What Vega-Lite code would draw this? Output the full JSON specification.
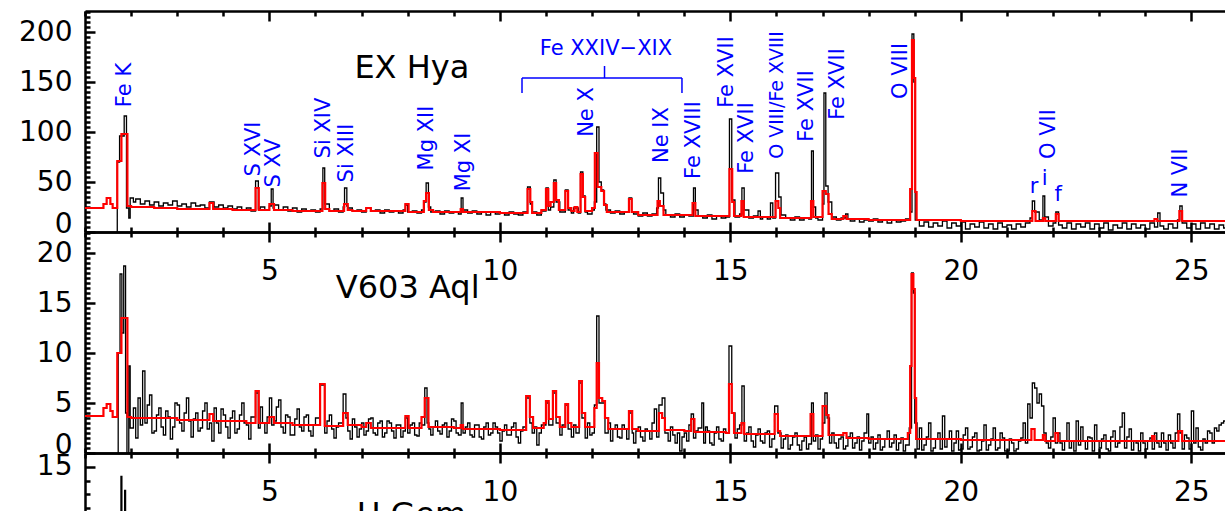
{
"$schema": "https://vega.github.io/schema/vega-lite/v6.json",
"padding": {"left": 18, "top": 9, "right": 0, "bottom": 0},
"background": "white",
"config": {
  "font": "DejaVu Sans",
  "view": {"stroke": null},
  "axis": {"domainColor": "black", "domainWidth": 2.5, "tickColor": "black", "tickWidth": 2.5, "labelColor": "black", "labelFont": "DejaVu Sans", "labelFontSize": 28, "grid": false, "labelFlush": false, "labelOverlap": false, "zindex": 1}
},
"datasets": {
  "exd": [{"x":1.66,"y":-10},{"x":1.70,"y":70},{"x":1.75,"y":96},{"x":1.85,"y":116},{"x":1.90,"y":24},{"x":1.95,"y":14},{"x":1.98,"y":34},{"x":2.05,"y":30},{"x":2.1,"y":33},{"x":2.2,"y":28},{"x":2.3,"y":31},{"x":2.4,"y":27},{"x":2.5,"y":30},{"x":2.6,"y":26},{"x":2.7,"y":29},{"x":2.8,"y":27},{"x":2.9,"y":31},{"x":3.0,"y":26},{"x":3.1,"y":28},{"x":3.2,"y":25},{"x":3.3,"y":29},{"x":3.4,"y":26},{"x":3.5,"y":27},{"x":3.6,"y":24},{"x":3.7,"y":30},{"x":3.8,"y":25},{"x":3.9,"y":27},{"x":4.0,"y":24},{"x":4.1,"y":26},{"x":4.2,"y":23},{"x":4.3,"y":25},{"x":4.4,"y":22},{"x":4.5,"y":24},{"x":4.6,"y":21},{"x":4.7,"y":51},{"x":4.76,"y":23},{"x":4.8,"y":25},{"x":4.9,"y":22},{"x":5.0,"y":26},{"x":5.04,"y":43},{"x":5.08,"y":24},{"x":5.1,"y":27},{"x":5.2,"y":22},{"x":5.3,"y":25},{"x":5.4,"y":21},{"x":5.5,"y":24},{"x":5.6,"y":20},{"x":5.7,"y":23},{"x":5.8,"y":21},{"x":5.9,"y":22},{"x":6.0,"y":20},{"x":6.1,"y":23},{"x":6.16,"y":64},{"x":6.2,"y":28},{"x":6.3,"y":21},{"x":6.4,"y":23},{"x":6.5,"y":20},{"x":6.6,"y":25},{"x":6.63,"y":44},{"x":6.68,"y":26},{"x":6.7,"y":24},{"x":6.8,"y":21},{"x":6.9,"y":22},{"x":7.0,"y":20},{"x":7.1,"y":24},{"x":7.2,"y":21},{"x":7.3,"y":22},{"x":7.4,"y":19},{"x":7.5,"y":22},{"x":7.6,"y":20},{"x":7.7,"y":21},{"x":7.8,"y":19},{"x":7.9,"y":22},{"x":7.95,"y":27},{"x":8.0,"y":20},{"x":8.1,"y":21},{"x":8.2,"y":19},{"x":8.3,"y":22},{"x":8.36,"y":30},{"x":8.4,"y":49},{"x":8.45,"y":25},{"x":8.5,"y":20},{"x":8.6,"y":21},{"x":8.7,"y":18},{"x":8.8,"y":21},{"x":8.9,"y":19},{"x":9.0,"y":20},{"x":9.1,"y":18},{"x":9.16,"y":34},{"x":9.2,"y":22},{"x":9.3,"y":19},{"x":9.4,"y":21},{"x":9.5,"y":18},{"x":9.6,"y":20},{"x":9.7,"y":17},{"x":9.8,"y":20},{"x":9.9,"y":18},{"x":10.0,"y":19},{"x":10.1,"y":17},{"x":10.2,"y":20},{"x":10.3,"y":18},{"x":10.4,"y":17},{"x":10.5,"y":20},{"x":10.6,"y":45},{"x":10.66,"y":28},{"x":10.7,"y":20},{"x":10.8,"y":17},{"x":10.9,"y":21},{"x":11.0,"y":44},{"x":11.05,"y":22},{"x":11.1,"y":25},{"x":11.17,"y":52},{"x":11.22,"y":30},{"x":11.3,"y":20},{"x":11.42,"y":42},{"x":11.48,"y":22},{"x":11.55,"y":19},{"x":11.6,"y":24},{"x":11.7,"y":19},{"x":11.75,"y":60},{"x":11.8,"y":36},{"x":11.85,"y":20},{"x":11.9,"y":18},{"x":12.0,"y":22},{"x":12.05,"y":30},{"x":12.1,"y":105},{"x":12.15,"y":50},{"x":12.2,"y":42},{"x":12.25,"y":28},{"x":12.3,"y":22},{"x":12.4,"y":19},{"x":12.5,"y":21},{"x":12.6,"y":18},{"x":12.7,"y":20},{"x":12.8,"y":34},{"x":12.86,"y":20},{"x":12.9,"y":18},{"x":13.0,"y":16},{"x":13.1,"y":19},{"x":13.2,"y":16},{"x":13.3,"y":18},{"x":13.4,"y":24},{"x":13.44,"y":54},{"x":13.49,"y":39},{"x":13.55,"y":22},{"x":13.6,"y":17},{"x":13.7,"y":15},{"x":13.8,"y":18},{"x":13.9,"y":15},{"x":14.0,"y":17},{"x":14.1,"y":16},{"x":14.2,"y":44},{"x":14.24,"y":22},{"x":14.3,"y":16},{"x":14.4,"y":14},{"x":14.5,"y":17},{"x":14.6,"y":13},{"x":14.7,"y":16},{"x":14.8,"y":14},{"x":14.9,"y":15},{"x":14.98,"y":113},{"x":15.03,"y":32},{"x":15.1,"y":15},{"x":15.2,"y":18},{"x":15.25,"y":44},{"x":15.3,"y":22},{"x":15.4,"y":14},{"x":15.5,"y":16},{"x":15.6,"y":21},{"x":15.65,"y":13},{"x":15.7,"y":15},{"x":15.8,"y":13},{"x":15.87,"y":29},{"x":15.92,"y":14},{"x":15.98,"y":59},{"x":16.05,"y":35},{"x":16.1,"y":17},{"x":16.2,"y":14},{"x":16.3,"y":12},{"x":16.4,"y":15},{"x":16.5,"y":12},{"x":16.6,"y":14},{"x":16.7,"y":13},{"x":16.76,"y":81},{"x":16.8,"y":25},{"x":16.85,"y":14},{"x":16.9,"y":12},{"x":17.0,"y":28},{"x":17.03,"y":139},{"x":17.07,"y":46},{"x":17.12,"y":30},{"x":17.2,"y":15},{"x":17.3,"y":12},{"x":17.4,"y":14},{"x":17.5,"y":18},{"x":17.55,"y":13},{"x":17.6,"y":11},{"x":17.7,"y":13},{"x":17.8,"y":10},{"x":17.9,"y":12},{"x":18.0,"y":11},{"x":18.1,"y":13},{"x":18.2,"y":10},{"x":18.3,"y":12},{"x":18.4,"y":9},{"x":18.5,"y":12},{"x":18.6,"y":10},{"x":18.7,"y":11},{"x":18.8,"y":13},{"x":18.9,"y":20},{"x":18.94,"y":198},{"x":18.98,"y":150},{"x":19.01,"y":12},{"x":19.1,"y":6},{"x":19.2,"y":10},{"x":19.3,"y":5},{"x":19.4,"y":9},{"x":19.5,"y":6},{"x":19.6,"y":11},{"x":19.7,"y":4},{"x":19.8,"y":9},{"x":19.9,"y":6},{"x":20.0,"y":10},{"x":20.1,"y":3},{"x":20.2,"y":8},{"x":20.3,"y":5},{"x":20.4,"y":10},{"x":20.5,"y":4},{"x":20.6,"y":8},{"x":20.7,"y":3},{"x":20.8,"y":9},{"x":20.9,"y":5},{"x":21.0,"y":7},{"x":21.1,"y":3},{"x":21.2,"y":8},{"x":21.3,"y":5},{"x":21.4,"y":9},{"x":21.5,"y":14},{"x":21.55,"y":31},{"x":21.6,"y":20},{"x":21.7,"y":12},{"x":21.78,"y":36},{"x":21.82,"y":15},{"x":21.9,"y":6},{"x":22.0,"y":9},{"x":22.06,"y":20},{"x":22.12,"y":7},{"x":22.2,"y":4},{"x":22.3,"y":9},{"x":22.4,"y":3},{"x":22.5,"y":8},{"x":22.6,"y":5},{"x":22.7,"y":9},{"x":22.8,"y":3},{"x":22.9,"y":8},{"x":23.0,"y":4},{"x":23.1,"y":9},{"x":23.2,"y":2},{"x":23.3,"y":7},{"x":23.4,"y":4},{"x":23.5,"y":9},{"x":23.6,"y":3},{"x":23.7,"y":8},{"x":23.8,"y":4},{"x":23.9,"y":7},{"x":24.0,"y":3},{"x":24.1,"y":9},{"x":24.2,"y":5},{"x":24.27,"y":19},{"x":24.32,"y":6},{"x":24.4,"y":3},{"x":24.5,"y":8},{"x":24.6,"y":4},{"x":24.7,"y":12},{"x":24.75,"y":26},{"x":24.8,"y":9},{"x":24.9,"y":4},{"x":25.0,"y":8},{"x":25.1,"y":3},{"x":25.2,"y":9},{"x":25.3,"y":4},{"x":25.4,"y":8},{"x":25.5,"y":3},{"x":25.6,"y":7},{"x":25.7,"y":4},{"x":25.8,"y":8}],
  "exm": [{"x":1.0,"y":24},{"x":1.4,"y":28},{"x":1.47,"y":34},{"x":1.55,"y":28},{"x":1.6,"y":24},{"x":1.7,"y":71},{"x":1.79,"y":98},{"x":1.92,"y":26},{"x":2.0,"y":25},{"x":2.5,"y":24},{"x":3.0,"y":23},{"x":3.7,"y":29},{"x":3.78,"y":23},{"x":4.2,"y":22},{"x":4.7,"y":44},{"x":4.77,"y":22},{"x":5.0,"y":28},{"x":5.1,"y":22},{"x":5.5,"y":21},{"x":6.15,"y":49},{"x":6.21,"y":23},{"x":6.3,"y":21},{"x":6.62,"y":28},{"x":6.7,"y":22},{"x":6.8,"y":21},{"x":7.1,"y":24},{"x":7.2,"y":21},{"x":7.95,"y":28},{"x":8.02,"y":20},{"x":8.35,"y":31},{"x":8.4,"y":39},{"x":8.46,"y":22},{"x":8.55,"y":20},{"x":9.15,"y":23},{"x":9.2,"y":20},{"x":10.0,"y":19},{"x":10.6,"y":43},{"x":10.66,"y":30},{"x":10.7,"y":19},{"x":10.9,"y":22},{"x":11.0,"y":43},{"x":11.05,"y":26},{"x":11.1,"y":30},{"x":11.17,"y":49},{"x":11.22,"y":32},{"x":11.28,"y":22},{"x":11.42,"y":41},{"x":11.48,"y":24},{"x":11.55,"y":21},{"x":11.62,"y":25},{"x":11.68,"y":20},{"x":11.75,"y":58},{"x":11.8,"y":35},{"x":11.85,"y":21},{"x":12.0,"y":24},{"x":12.06,"y":79},{"x":12.12,"y":45},{"x":12.2,"y":41},{"x":12.26,"y":27},{"x":12.32,"y":20},{"x":12.8,"y":33},{"x":12.86,"y":20},{"x":13.0,"y":17},{"x":13.42,"y":31},{"x":13.47,"y":26},{"x":13.55,"y":17},{"x":14.18,"y":29},{"x":14.24,"y":16},{"x":14.98,"y":63},{"x":15.04,"y":30},{"x":15.08,"y":16},{"x":15.24,"y":31},{"x":15.29,"y":15},{"x":15.98,"y":31},{"x":16.04,"y":24},{"x":16.08,"y":14},{"x":16.75,"y":31},{"x":16.8,"y":15},{"x":17.0,"y":41},{"x":17.07,"y":38},{"x":17.13,"y":18},{"x":17.2,"y":13},{"x":17.45,"y":16},{"x":17.52,"y":13},{"x":18.0,"y":12},{"x":18.9,"y":43},{"x":18.94,"y":192},{"x":18.98,"y":154},{"x":19.01,"y":40},{"x":19.04,"y":12},{"x":20.0,"y":11},{"x":21.55,"y":21},{"x":21.62,"y":11},{"x":21.78,"y":14},{"x":21.83,"y":11},{"x":22.06,"y":18},{"x":22.12,"y":11},{"x":24.2,"y":13},{"x":24.26,"y":11},{"x":24.74,"y":21},{"x":24.8,"y":11},{"x":25.8,"y":11}],
  "vd": [{"x":1.66,"y":-1},{"x":1.72,"y":10},{"x":1.76,"y":17.9},{"x":1.8,"y":12},{"x":1.84,"y":18.7},{"x":1.88,"y":4},{"x":1.91,"y":-1},{"x":1.95,"y":8.7},{"x":1.98,"y":2.5},{"x":2.05,"y":4.5},{"x":2.1,"y":1.5},{"x":2.15,"y":5.5},{"x":2.2,"y":2.8},{"x":2.25,"y":8.2},{"x":2.3,"y":3.0},{"x":2.35,"y":4.8},{"x":2.4,"y":5.8},{"x":2.45,"y":2.0},{"x":2.5,"y":2.2},{"x":2.55,"y":3.8},{"x":2.6,"y":4.5},{"x":2.65,"y":2.6},{"x":2.7,"y":1.8},{"x":2.75,"y":4.2},{"x":2.8,"y":3.6},{"x":2.85,"y":1.4},{"x":2.9,"y":2.6},{"x":2.95,"y":5.0},{"x":3.0,"y":4.8},{"x":3.05,"y":3.0},{"x":3.1,"y":2.2},{"x":3.15,"y":4.0},{"x":3.2,"y":5.5},{"x":3.25,"y":3.2},{"x":3.3,"y":1.6},{"x":3.35,"y":3.4},{"x":3.4,"y":4.0},{"x":3.45,"y":2.2},{"x":3.5,"y":2.5},{"x":3.55,"y":4.2},{"x":3.6,"y":5.0},{"x":3.65,"y":2.4},{"x":3.7,"y":3.0},{"x":3.75,"y":1.2},{"x":3.8,"y":4.5},{"x":3.85,"y":3.0},{"x":3.9,"y":2.0},{"x":3.95,"y":4.4},{"x":4.0,"y":3.8},{"x":4.05,"y":2.6},{"x":4.1,"y":1.5},{"x":4.15,"y":3.5},{"x":4.2,"y":4.2},{"x":4.25,"y":2.0},{"x":4.3,"y":2.4},{"x":4.35,"y":3.8},{"x":4.4,"y":5.0},{"x":4.45,"y":3.0},{"x":4.5,"y":2.8},{"x":4.55,"y":1.4},{"x":4.6,"y":3.6},{"x":4.7,"y":6.0},{"x":4.76,"y":2.5},{"x":4.8,"y":4.6},{"x":4.85,"y":3.0},{"x":4.9,"y":2.0},{"x":4.95,"y":3.6},{"x":5.0,"y":5.5},{"x":5.05,"y":2.8},{"x":5.1,"y":3.2},{"x":5.15,"y":4.6},{"x":5.2,"y":5.3},{"x":5.25,"y":2.6},{"x":5.3,"y":2.0},{"x":5.35,"y":3.8},{"x":5.4,"y":3.6},{"x":5.45,"y":1.8},{"x":5.5,"y":1.8},{"x":5.55,"y":3.4},{"x":5.6,"y":4.4},{"x":5.65,"y":2.6},{"x":5.7,"y":2.2},{"x":5.75,"y":3.6},{"x":5.8,"y":3.8},{"x":5.85,"y":2.2},{"x":5.9,"y":1.7},{"x":5.95,"y":2.8},{"x":6.0,"y":3.5},{"x":6.1,"y":6.8},{"x":6.2,"y":2.0},{"x":6.25,"y":3.2},{"x":6.3,"y":3.8},{"x":6.35,"y":2.4},{"x":6.4,"y":1.5},{"x":6.45,"y":2.6},{"x":6.5,"y":3.0},{"x":6.6,"y":5.9},{"x":6.66,"y":3.5},{"x":6.7,"y":2.2},{"x":6.75,"y":1.4},{"x":6.8,"y":3.4},{"x":6.85,"y":2.6},{"x":6.9,"y":1.6},{"x":6.95,"y":2.4},{"x":7.0,"y":3.0},{"x":7.05,"y":1.8},{"x":7.1,"y":2.2},{"x":7.15,"y":3.4},{"x":7.2,"y":3.5},{"x":7.25,"y":2.0},{"x":7.3,"y":1.8},{"x":7.35,"y":3.0},{"x":7.4,"y":3.2},{"x":7.45,"y":1.6},{"x":7.5,"y":2.0},{"x":7.55,"y":3.2},{"x":7.6,"y":3.0},{"x":7.65,"y":2.2},{"x":7.7,"y":1.5},{"x":7.75,"y":2.8},{"x":7.8,"y":2.8},{"x":7.85,"y":1.6},{"x":7.9,"y":2.2},{"x":7.95,"y":3.5},{"x":8.0,"y":2.0},{"x":8.05,"y":2.8},{"x":8.1,"y":3.0},{"x":8.15,"y":1.8},{"x":8.2,"y":1.7},{"x":8.25,"y":3.0},{"x":8.3,"y":2.8},{"x":8.37,"y":6.5},{"x":8.42,"y":3.0},{"x":8.46,"y":2.4},{"x":8.5,"y":1.8},{"x":8.55,"y":2.6},{"x":8.6,"y":3.2},{"x":8.65,"y":2.2},{"x":8.7,"y":1.9},{"x":8.75,"y":2.8},{"x":8.8,"y":3.0},{"x":8.85,"y":1.6},{"x":8.9,"y":2.2},{"x":8.95,"y":3.4},{"x":9.0,"y":3.2},{"x":9.05,"y":2.0},{"x":9.1,"y":1.8},{"x":9.16,"y":5.0},{"x":9.2,"y":2.0},{"x":9.25,"y":2.6},{"x":9.3,"y":3.0},{"x":9.35,"y":1.8},{"x":9.4,"y":1.6},{"x":9.45,"y":2.8},{"x":9.5,"y":2.8},{"x":9.55,"y":1.6},{"x":9.6,"y":1.4},{"x":9.65,"y":2.6},{"x":9.7,"y":3.0},{"x":9.75,"y":1.8},{"x":9.8,"y":2.0},{"x":9.85,"y":3.0},{"x":9.9,"y":2.6},{"x":9.95,"y":2.0},{"x":10.0,"y":1.2},{"x":10.05,"y":2.2},{"x":10.1,"y":2.8},{"x":10.15,"y":1.8},{"x":10.2,"y":1.8},{"x":10.25,"y":2.6},{"x":10.3,"y":3.0},{"x":10.35,"y":1.6},{"x":10.4,"y":1.0},{"x":10.45,"y":2.2},{"x":10.5,"y":2.6},{"x":10.57,"y":5.5},{"x":10.65,"y":3.0},{"x":10.7,"y":2.0},{"x":10.75,"y":2.6},{"x":10.8,"y":0.8},{"x":10.85,"y":2.0},{"x":10.9,"y":2.8},{"x":11.0,"y":5.0},{"x":11.06,"y":2.8},{"x":11.15,"y":6.0},{"x":11.22,"y":3.0},{"x":11.3,"y":1.8},{"x":11.35,"y":2.8},{"x":11.42,"y":4.8},{"x":11.48,"y":2.4},{"x":11.55,"y":1.6},{"x":11.6,"y":2.8},{"x":11.65,"y":2.0},{"x":11.72,"y":7.0},{"x":11.78,"y":3.5},{"x":11.85,"y":1.5},{"x":11.9,"y":3.0},{"x":11.95,"y":1.8},{"x":12.0,"y":2.0},{"x":12.05,"y":4.8},{"x":12.1,"y":13.7},{"x":12.15,"y":5.0},{"x":12.22,"y":5.0},{"x":12.28,"y":2.0},{"x":12.35,"y":3.0},{"x":12.4,"y":1.2},{"x":12.45,"y":2.4},{"x":12.5,"y":2.8},{"x":12.55,"y":1.6},{"x":12.6,"y":1.5},{"x":12.65,"y":2.8},{"x":12.7,"y":2.4},{"x":12.75,"y":1.4},{"x":12.8,"y":4.0},{"x":12.87,"y":2.0},{"x":12.9,"y":1.0},{"x":12.95,"y":2.2},{"x":13.0,"y":2.6},{"x":13.05,"y":1.6},{"x":13.1,"y":1.2},{"x":13.15,"y":2.4},{"x":13.2,"y":2.2},{"x":13.25,"y":1.4},{"x":13.3,"y":3.0},{"x":13.35,"y":4.4},{"x":13.4,"y":1.6},{"x":13.45,"y":4.8},{"x":13.52,"y":5.5},{"x":13.58,"y":2.0},{"x":13.65,"y":1.2},{"x":13.7,"y":2.6},{"x":13.75,"y":1.8},{"x":13.8,"y":1.0},{"x":13.85,"y":2.0},{"x":13.9,"y":0.2},{"x":13.95,"y":1.6},{"x":14.0,"y":2.0},{"x":14.05,"y":1.2},{"x":14.1,"y":2.8},{"x":14.15,"y":3.9},{"x":14.2,"y":1.5},{"x":14.25,"y":2.2},{"x":14.3,"y":2.5},{"x":14.38,"y":5.0},{"x":14.42,"y":1.0},{"x":14.46,"y":2.6},{"x":14.5,"y":2.2},{"x":14.55,"y":1.0},{"x":14.6,"y":0.8},{"x":14.65,"y":2.0},{"x":14.7,"y":2.6},{"x":14.75,"y":1.4},{"x":14.8,"y":1.2},{"x":14.85,"y":2.4},{"x":14.9,"y":2.0},{"x":14.97,"y":10.7},{"x":15.03,"y":4.0},{"x":15.1,"y":1.5},{"x":15.15,"y":2.4},{"x":15.2,"y":2.8},{"x":15.25,"y":6.7},{"x":15.3,"y":1.2},{"x":15.35,"y":2.0},{"x":15.4,"y":2.6},{"x":15.45,"y":1.2},{"x":15.5,"y":0.6},{"x":15.55,"y":1.8},{"x":15.6,"y":2.4},{"x":15.65,"y":1.2},{"x":15.7,"y":1.0},{"x":15.75,"y":2.0},{"x":15.8,"y":2.2},{"x":15.85,"y":0.6},{"x":15.9,"y":1.4},{"x":15.96,"y":4.7},{"x":16.03,"y":2.0},{"x":16.1,"y":0.5},{"x":16.15,"y":1.4},{"x":16.2,"y":1.8},{"x":16.25,"y":0.4},{"x":16.3,"y":0.8},{"x":16.35,"y":1.6},{"x":16.4,"y":2.0},{"x":16.45,"y":0.8},{"x":16.5,"y":0.3},{"x":16.55,"y":1.2},{"x":16.6,"y":1.6},{"x":16.65,"y":0.4},{"x":16.7,"y":0.9},{"x":16.76,"y":5.0},{"x":16.8,"y":1.2},{"x":16.85,"y":1.8},{"x":16.9,"y":0.4},{"x":16.95,"y":1.4},{"x":17.0,"y":3.0},{"x":17.05,"y":6.0},{"x":17.1,"y":3.5},{"x":17.15,"y":1.0},{"x":17.2,"y":2.0},{"x":17.25,"y":1.0},{"x":17.3,"y":0.5},{"x":17.35,"y":1.4},{"x":17.4,"y":1.6},{"x":17.45,"y":0.4},{"x":17.5,"y":0.7},{"x":17.55,"y":1.6},{"x":17.6,"y":2.0},{"x":17.65,"y":0.5},{"x":17.7,"y":1.0},{"x":17.75,"y":1.6},{"x":17.8,"y":0.3},{"x":17.85,"y":1.2},{"x":17.9,"y":2.0},{"x":17.96,"y":3.9},{"x":18.0,"y":1.0},{"x":18.05,"y":1.6},{"x":18.1,"y":0.4},{"x":18.15,"y":1.0},{"x":18.2,"y":1.8},{"x":18.25,"y":0.3},{"x":18.3,"y":0.6},{"x":18.35,"y":1.4},{"x":18.4,"y":2.2},{"x":18.45,"y":0.6},{"x":18.5,"y":1.0},{"x":18.55,"y":1.8},{"x":18.6,"y":0.3},{"x":18.65,"y":1.0},{"x":18.7,"y":1.5},{"x":18.75,"y":0.2},{"x":18.8,"y":0.8},{"x":18.88,"y":2.5},{"x":18.93,"y":18.0},{"x":18.97,"y":16.0},{"x":19.0,"y":3.0},{"x":19.05,"y":0.4},{"x":19.1,"y":2.5},{"x":19.15,"y":0.3},{"x":19.2,"y":0.8},{"x":19.25,"y":1.6},{"x":19.3,"y":3.0},{"x":19.35,"y":0.2},{"x":19.4,"y":0.5},{"x":19.45,"y":1.4},{"x":19.5,"y":2.0},{"x":19.55,"y":0.4},{"x":19.6,"y":3.7},{"x":19.65,"y":0.6},{"x":19.7,"y":1.4},{"x":19.75,"y":2.2},{"x":19.8,"y":0.2},{"x":19.85,"y":1.0},{"x":19.9,"y":2.2},{"x":19.95,"y":0.3},{"x":20.0,"y":0.4},{"x":20.05,"y":1.8},{"x":20.1,"y":2.5},{"x":20.15,"y":0.4},{"x":20.2,"y":0.6},{"x":20.25,"y":1.6},{"x":20.3,"y":2.0},{"x":20.35,"y":0.2},{"x":20.4,"y":0.3},{"x":20.45,"y":1.2},{"x":20.5,"y":2.8},{"x":20.55,"y":0.3},{"x":20.6,"y":0.8},{"x":20.65,"y":1.4},{"x":20.7,"y":2.5},{"x":20.75,"y":0.3},{"x":20.8,"y":0.5},{"x":20.85,"y":2.0},{"x":20.9,"y":1.5},{"x":20.95,"y":0.2},{"x":21.0,"y":0.2},{"x":21.05,"y":1.4},{"x":21.1,"y":1.0},{"x":21.15,"y":0.2},{"x":21.2,"y":0.4},{"x":21.25,"y":1.2},{"x":21.3,"y":1.5},{"x":21.35,"y":3.0},{"x":21.4,"y":1.0},{"x":21.45,"y":4.9},{"x":21.5,"y":3.5},{"x":21.55,"y":7.0},{"x":21.6,"y":6.5},{"x":21.65,"y":5.0},{"x":21.7,"y":5.9},{"x":21.75,"y":4.7},{"x":21.8,"y":2.0},{"x":21.85,"y":1.0},{"x":21.9,"y":0.5},{"x":21.95,"y":1.6},{"x":22.0,"y":3.5},{"x":22.05,"y":1.0},{"x":22.1,"y":2.0},{"x":22.15,"y":1.0},{"x":22.2,"y":0.3},{"x":22.25,"y":1.2},{"x":22.3,"y":3.0},{"x":22.35,"y":0.5},{"x":22.4,"y":1.2},{"x":22.45,"y":0.2},{"x":22.5,"y":3.2},{"x":22.55,"y":0.8},{"x":22.6,"y":2.6},{"x":22.65,"y":1.2},{"x":22.7,"y":0.4},{"x":22.75,"y":1.6},{"x":22.8,"y":1.5},{"x":22.85,"y":0.2},{"x":22.9,"y":2.8},{"x":22.95,"y":1.2},{"x":23.0,"y":0.5},{"x":23.05,"y":1.4},{"x":23.1,"y":1.8},{"x":23.15,"y":0.4},{"x":23.2,"y":0.2},{"x":23.25,"y":1.6},{"x":23.3,"y":2.2},{"x":23.35,"y":0.6},{"x":23.4,"y":1.0},{"x":23.45,"y":2.6},{"x":23.5,"y":4.0},{"x":23.55,"y":0.5},{"x":23.6,"y":1.6},{"x":23.65,"y":2.4},{"x":23.7,"y":0.3},{"x":23.75,"y":1.2},{"x":23.8,"y":1.0},{"x":23.85,"y":0.2},{"x":23.9,"y":2.0},{"x":23.95,"y":1.0},{"x":24.0,"y":0.4},{"x":24.05,"y":1.2},{"x":24.1,"y":1.5},{"x":24.15,"y":0.4},{"x":24.2,"y":2.0},{"x":24.25,"y":1.0},{"x":24.3,"y":0.6},{"x":24.35,"y":2.0},{"x":24.4,"y":1.0},{"x":24.45,"y":0.3},{"x":24.5,"y":1.8},{"x":24.55,"y":1.0},{"x":24.6,"y":0.5},{"x":24.65,"y":2.0},{"x":24.7,"y":3.9},{"x":24.75,"y":2.0},{"x":24.8,"y":0.4},{"x":24.85,"y":1.8},{"x":24.9,"y":1.5},{"x":24.95,"y":0.4},{"x":25.0,"y":4.2},{"x":25.05,"y":1.0},{"x":25.1,"y":2.5},{"x":25.15,"y":0.6},{"x":25.2,"y":0.3},{"x":25.25,"y":1.4},{"x":25.3,"y":1.0},{"x":25.35,"y":2.2},{"x":25.4,"y":2.0},{"x":25.45,"y":1.0},{"x":25.5,"y":2.5},{"x":25.55,"y":2.2},{"x":25.6,"y":2.8},{"x":25.65,"y":3.0},{"x":25.7,"y":3.2},{"x":25.75,"y":3.6},{"x":25.8,"y":1.0}],
  "vm": [{"x":1.0,"y":3.7},{"x":1.4,"y":4.5},{"x":1.47,"y":4.9},{"x":1.55,"y":4.2},{"x":1.6,"y":3.6},{"x":1.7,"y":10.0},{"x":1.79,"y":13.5},{"x":1.92,"y":3.6},{"x":2.0,"y":3.5},{"x":3.0,"y":3.3},{"x":3.7,"y":3.9},{"x":3.78,"y":3.2},{"x":4.5,"y":3.0},{"x":4.7,"y":6.2},{"x":4.77,"y":3.0},{"x":5.0,"y":3.6},{"x":5.1,"y":3.0},{"x":5.5,"y":2.8},{"x":6.1,"y":6.9},{"x":6.2,"y":2.7},{"x":6.6,"y":4.0},{"x":6.7,"y":2.8},{"x":7.0,"y":2.6},{"x":7.1,"y":3.0},{"x":7.2,"y":2.5},{"x":7.95,"y":3.7},{"x":8.02,"y":2.5},{"x":8.3,"y":3.6},{"x":8.37,"y":5.5},{"x":8.45,"y":2.6},{"x":9.0,"y":2.5},{"x":9.15,"y":2.8},{"x":9.2,"y":2.4},{"x":10.0,"y":2.3},{"x":10.57,"y":5.7},{"x":10.65,"y":3.6},{"x":10.72,"y":2.5},{"x":10.95,"y":3.0},{"x":11.0,"y":5.2},{"x":11.06,"y":3.4},{"x":11.15,"y":6.2},{"x":11.22,"y":3.6},{"x":11.3,"y":2.6},{"x":11.42,"y":4.9},{"x":11.48,"y":3.0},{"x":11.55,"y":2.6},{"x":11.72,"y":7.2},{"x":11.78,"y":4.0},{"x":11.85,"y":2.6},{"x":12.05,"y":4.5},{"x":12.1,"y":9.0},{"x":12.15,"y":5.5},{"x":12.22,"y":5.2},{"x":12.28,"y":3.5},{"x":12.35,"y":2.4},{"x":12.8,"y":4.2},{"x":12.87,"y":2.4},{"x":13.0,"y":2.2},{"x":13.45,"y":4.0},{"x":13.52,"y":3.5},{"x":13.58,"y":2.3},{"x":14.0,"y":2.2},{"x":14.15,"y":3.4},{"x":14.22,"y":2.1},{"x":14.9,"y":2.0},{"x":14.97,"y":6.9},{"x":15.03,"y":4.0},{"x":15.08,"y":2.0},{"x":15.24,"y":3.0},{"x":15.3,"y":1.9},{"x":15.96,"y":3.9},{"x":16.03,"y":2.2},{"x":16.08,"y":1.7},{"x":16.74,"y":3.9},{"x":16.8,"y":1.7},{"x":17.0,"y":4.7},{"x":17.08,"y":3.8},{"x":17.13,"y":1.8},{"x":17.45,"y":2.0},{"x":17.52,"y":1.5},{"x":18.0,"y":1.4},{"x":18.85,"y":2.0},{"x":18.9,"y":8.7},{"x":18.93,"y":17.9},{"x":18.97,"y":16.4},{"x":19.0,"y":5.5},{"x":19.03,"y":1.4},{"x":20.0,"y":1.3},{"x":21.53,"y":2.4},{"x":21.6,"y":1.3},{"x":21.78,"y":1.8},{"x":21.83,"y":1.2},{"x":22.05,"y":2.0},{"x":22.11,"y":1.2},{"x":24.15,"y":1.7},{"x":24.2,"y":1.2},{"x":24.72,"y":2.2},{"x":24.8,"y":1.2},{"x":25.8,"y":1.2}],
  "ud": [{"x":1.7,"y":0},{"x":1.78,"y":14.3},{"x":1.8,"y":2},{"x":1.86,"y":13.3},{"x":1.88,"y":2},{"x":2.0,"y":3},{"x":25.8,"y":3}]
},
"spacing": 0,
"bounds": "flush",
"vconcat": [
  {
    "width": 1140, "height": 221,
    "resolve": {"axis": {"x": "independent", "y": "independent"}},
    "layer": [
      {"data": {"name": "exd"},
       "mark": {"type": "line", "interpolate": "step-after", "color": "black", "strokeWidth": 1.3, "clip": true},
       "encoding": {
         "x": {"field": "x", "type": "quantitative", "scale": {"domain": [1, 25.73], "nice": false, "zero": false},
               "axis": {"orient": "bottom", "title": null, "values": [5,10,15,20,25], "tickSize": -10, "labelPadding": 35}},
         "y": {"field": "y", "type": "quantitative", "scale": {"domain": [0, 221], "nice": false},
               "axis": {"orient": "left", "title": null, "values": [0,50,100,150,200], "tickSize": -10, "labelPadding": 23, "labelBaseline": {"condition": {"test": "datum.value === 0", "value": "alphabetic"}, "value": "middle"}}}
       }},
      {"data": {"name": "exm"},
       "mark": {"type": "line", "interpolate": "step-after", "color": "#ff0000", "strokeWidth": 2.2, "clip": true},
       "encoding": {
         "x": {"field": "x", "type": "quantitative", "scale": {"domain": [1, 25.73], "nice": false, "zero": false},
               "axis": {"orient": "top", "title": null, "values": [5,10,15,20,25], "tickSize": -10, "labels": false}},
         "y": {"field": "y", "type": "quantitative", "axis": null}
       }},
      {"data": {"values": [{"x": 8.09, "y": 164, "t": "EX Hya"}]},
       "mark": {"type": "text", "fontSize": 32, "font": "DejaVu Sans", "color": "black", "align": "center", "baseline": "middle"},
       "encoding": {
         "x": {"field": "x", "type": "quantitative", "axis": {"orient": "bottom", "title": null, "values": [1,2,3,4,6,7,8,9,11,12,13,14,16,17,18,19,21,22,23,24], "tickSize": -5, "labels": false, "domain": false}},
         "y": {"field": "y", "type": "quantitative", "axis": {"orient": "left", "title": null, "values": [5,10,15,20,25,30,35,40,45,55,60,65,70,75,80,85,90,95,105,110,115,120,125,130,135,140,145,155,160,165,170,175,180,185,190,195,205,210,215,220], "tickSize": -5, "labels": false, "domain": false}},
         "text": {"field": "t"}}},
      {"data": {"values": [
         {"x":1.86,"y":147,"t":"Fe K"},{"x":4.67,"y":83,"t":"S XVI"},{"x":5.10,"y":69,"t":"S XV"},{"x":6.18,"y":104,"t":"Si XIV"},{"x":6.69,"y":79,"t":"Si XIII"},{"x":8.42,"y":94,"t":"Mg XII"},{"x":9.22,"y":70,"t":"Mg XI"},{"x":11.89,"y":120,"t":"Ne X"},{"x":13.52,"y":97,"t":"Ne IX"},{"x":14.21,"y":92,"t":"Fe XVIII"},{"x":14.93,"y":160,"t":"Fe XVII"},{"x":15.36,"y":94,"t":"Fe XVII"},{"x":16.66,"y":126,"t":"Fe XVII"},{"x":17.33,"y":148,"t":"Fe XVII"},{"x":18.70,"y":161,"t":"O VIII"},{"x":21.91,"y":98,"t":"O VII"},{"x":24.77,"y":59,"t":"N VII"}]},
       "mark": {"type": "text", "fontSize": 21, "font": "DejaVu Sans", "color": "#0000ff", "angle": 270, "align": "center", "baseline": "middle"},
       "encoding": {
         "x": {"field": "x", "type": "quantitative", "axis": {"orient": "top", "title": null, "values": [1,2,3,4,6,7,8,9,11,12,13,14,16,17,18,19,21,22,23,24], "tickSize": -5, "labels": false, "domain": false}},
         "y": {"field": "y", "type": "quantitative", "axis": null}, "text": {"field": "t"}}},
      {"data": {"values": [{"x":16.01,"y":137,"t":"O VIII/Fe XVIII"}]},
       "mark": {"type": "text", "fontSize": 19, "font": "DejaVu Sans", "color": "#0000ff", "angle": 270, "align": "center", "baseline": "middle"},
       "encoding": {"x": {"field": "x", "type": "quantitative", "axis": null}, "y": {"field": "y", "type": "quantitative", "axis": null}, "text": {"field": "t"}}},
      {"data": {"values": [{"x":12.3,"y":183,"t":"Fe XXIV−XIX"},{"x":21.59,"y":45,"t":"r"},{"x":21.82,"y":53,"t":"i"},{"x":22.11,"y":37,"t":"f"}]},
       "mark": {"type": "text", "fontSize": 21, "font": "DejaVu Sans", "color": "#0000ff", "align": "center", "baseline": "middle"},
       "encoding": {"x": {"field": "x", "type": "quantitative", "axis": null}, "y": {"field": "y", "type": "quantitative", "axis": null}, "text": {"field": "t"}}},
      {"data": {"values": [{"x":10.48,"x2":13.95,"y":154,"y2":154},{"x":10.48,"x2":10.48,"y":154,"y2":139},{"x":13.95,"x2":13.95,"y":154,"y2":139},{"x":12.27,"x2":12.27,"y":154,"y2":166}]},
       "mark": {"type": "rule", "color": "#0000ff", "strokeWidth": 1.5},
       "encoding": {"x": {"field": "x", "type": "quantitative", "axis": null}, "x2": {"field": "x2"}, "y": {"field": "y", "type": "quantitative", "axis": null}, "y2": {"field": "y2"}}}
    ]
  },
  {
    "width": 1140, "height": 221,
    "resolve": {"axis": {"x": "independent", "y": "independent"}},
    "layer": [
      {"data": {"name": "vd"},
       "mark": {"type": "line", "interpolate": "step-after", "color": "black", "strokeWidth": 1.3, "clip": true},
       "encoding": {
         "x": {"field": "x", "type": "quantitative", "scale": {"domain": [1, 25.73], "nice": false, "zero": false},
               "axis": {"orient": "bottom", "title": null, "values": [5,10,15,20,25], "tickSize": -10, "labelPadding": 35}},
         "y": {"field": "y", "type": "quantitative", "scale": {"domain": [0, 22.1], "nice": false},
               "axis": {"orient": "left", "title": null, "values": [0,5,10,15,20], "format": "d", "tickSize": -10, "labelPadding": 23, "labelBaseline": {"condition": {"test": "datum.value === 0", "value": "alphabetic"}, "value": "middle"}}}
       }},
      {"data": {"name": "vm"},
       "mark": {"type": "line", "interpolate": "step-after", "color": "#ff0000", "strokeWidth": 2.2, "clip": true},
       "encoding": {
         "x": {"field": "x", "type": "quantitative", "scale": {"domain": [1, 25.73], "nice": false, "zero": false},
               "axis": {"orient": "top", "title": null, "values": [5,10,15,20,25], "tickSize": -10, "labels": false}},
         "y": {"field": "y", "type": "quantitative", "axis": null}
       }},
      {"data": {"name": "vm"},
       "mark": {"type": "point", "opacity": 0, "clip": true},
       "encoding": {
         "x": {"field": "x", "type": "quantitative", "axis": {"orient": "top", "title": null, "values": [1,2,3,4,6,7,8,9,11,12,13,14,16,17,18,19,21,22,23,24], "tickSize": -5, "labels": false, "domain": false}},
         "y": {"field": "y", "type": "quantitative", "axis": null}
       }},
      {"data": {"values": [{"x": 8.0, "y": 16.5, "t": "V603 Aql"}]},
       "mark": {"type": "text", "fontSize": 32, "font": "DejaVu Sans", "color": "black", "align": "center", "baseline": "middle"},
       "encoding": {
         "x": {"field": "x", "type": "quantitative", "axis": {"orient": "bottom", "title": null, "values": [1,2,3,4,6,7,8,9,11,12,13,14,16,17,18,19,21,22,23,24], "tickSize": -5, "labels": false, "domain": false}},
         "y": {"field": "y", "type": "quantitative", "axis": {"orient": "left", "title": null, "values": [0.5,1,1.5,2,2.5,3,3.5,4,4.5,5.5,6,6.5,7,7.5,8,8.5,9,9.5,10.5,11,11.5,12,12.5,13,13.5,14,14.5,15.5,16,16.5,17,17.5,18,18.5,19,19.5,20.5,21,21.5,22], "tickSize": -5, "labels": false, "domain": false}},
         "text": {"field": "t"}}}
    ]
  },
  {
    "width": 1140, "height": 58,
    "resolve": {"axis": {"x": "independent", "y": "independent"}},
    "layer": [
      {"data": {"name": "ud"},
       "mark": {"type": "line", "interpolate": "step-after", "color": "black", "strokeWidth": 1.3, "clip": true},
       "encoding": {
         "x": {"field": "x", "type": "quantitative", "scale": {"domain": [1, 25.73], "nice": false, "zero": false},
               "axis": {"orient": "top", "title": null, "values": [5,10,15,20,25], "tickSize": -10, "labels": false}},
         "y": {"field": "y", "type": "quantitative", "scale": {"domain": [11.8, 16.0], "nice": false, "zero": false},
               "axis": {"orient": "left", "title": null, "values": [15], "format": "d", "tickSize": -10, "labelPadding": 23}}
       }},
      {"data": {"values": [{"x": 6.9, "y": 12.6, "t": "U Gem"}]},
       "mark": {"type": "text", "fontSize": 32, "font": "DejaVu Sans", "color": "black", "align": "left", "baseline": "top", "clip": true},
       "encoding": {
         "x": {"field": "x", "type": "quantitative", "axis": {"orient": "top", "title": null, "values": [1,2,3,4,6,7,8,9,11,12,13,14,16,17,18,19,21,22,23,24], "tickSize": -5, "labels": false, "domain": false}},
         "y": {"field": "y", "type": "quantitative", "axis": {"orient": "left", "title": null, "values": [12,13,14,16], "tickSize": -5, "labels": false, "domain": false}},
         "text": {"field": "t"}}}
    ]
  }
]
}
